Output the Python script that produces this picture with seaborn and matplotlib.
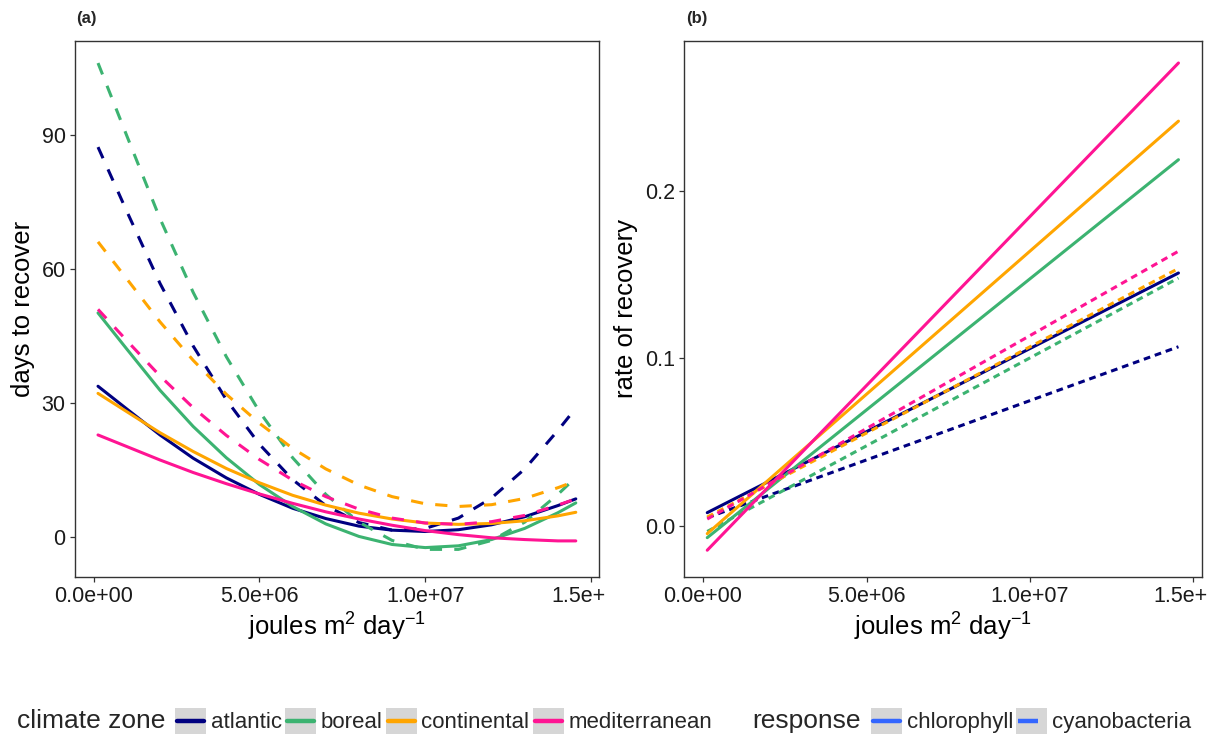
import matplotlib
matplotlib.use("Agg")
import matplotlib.pyplot as plt
import pandas as pd
import seaborn as sns

from matplotlib.lines import Line2D
from matplotlib.patches import Rectangle
from matplotlib.legend_handler import HandlerLine2D
from matplotlib.transforms import ScaledTranslation


# ===== DATA =====
zones = ["atlantic", "boreal", "continental", "mediterranean"]
responses = ["chlorophyll", "cyanobacteria"]
zone_colors = ["#000080", "#3CB371", "#FFA500", "#FF1493"]
response_key_color = "#3366FF"

# (a) fitted days to recover at these radiation values
radiation_a = [0.13e6, 1e6, 2e6, 3e6, 4e6, 5e6, 6e6, 7e6,
               8e6, 9e6, 10e6, 11e6, 12e6, 13e6, 14e6, 14.54e6]
days_atlantic_chl = [33.8, 28.7, 22.9, 17.7, 13.3, 9.6, 6.5, 4.2, 2.5, 1.6, 1.3, 1.7, 2.8, 4.6, 7.1, 8.6]
days_boreal_chl = [50.2, 42.1, 32.9, 24.8, 17.8, 11.8, 6.9, 3.0, 0.2, -1.6, -2.3, -1.9, -0.5, 2.0, 5.5, 7.7]
days_continental_chl = [32.2, 28.1, 23.4, 19.2, 15.4, 12.2, 9.4, 7.2, 5.4, 4.1, 3.2, 2.9, 3.1, 3.7, 4.8, 5.6]
days_mediterranean_chl = [22.9, 20.3, 17.3, 14.5, 12.0, 9.7, 7.6, 5.7, 4.1, 2.7, 1.5, 0.6, -0.1, -0.5, -0.8, -0.8]
days_atlantic_cyano = [87.3, 72.9, 56.8, 42.8, 30.8, 20.8, 12.9, 7.1, 3.3, 1.6, 2.0, 4.3, 8.8, 15.3, 23.9, 28.9]
days_boreal_cyano = [106.1, 89.8, 71.3, 54.8, 40.4, 28.1, 17.8, 9.6, 3.4, -0.7, -2.7, -2.7, -0.7, 3.4, 9.6, 13.4]
days_continental_cyano = [66.1, 57.8, 48.2, 39.6, 32.0, 25.5, 19.9, 15.3, 11.7, 9.1, 7.5, 6.9, 7.3, 8.7, 11.1, 12.6]
days_mediterranean_cyano = [51.0, 44.0, 36.1, 29.0, 22.8, 17.4, 12.8, 9.1, 6.3, 4.3, 3.2, 2.9, 3.5, 4.9, 7.2, 8.6]

# (b) fitted rate of recovery, straight lines between the two ends
radiation_b = [0.13e6, 14.54e6]
rate_atlantic_chl = [0.0080, 0.1510]
rate_boreal_chl = [-0.0069, 0.2186]
rate_continental_chl = [-0.0045, 0.2416]
rate_mediterranean_chl = [-0.0144, 0.2763]
rate_atlantic_cyano = [0.0050, 0.1070]
rate_boreal_cyano = [-0.0032, 0.1480]
rate_continental_cyano = [0.0054, 0.1537]
rate_mediterranean_cyano = [0.0042, 0.1640]

x_ticks = [0, 5e6, 1e7, 1.5e7]
# the last label is cut off by the panel edge in the original figure
x_tick_labels = ["0.0e+00", "5.0e+06", "1.0e+07", "1.5e+"]
y_ticks_a = [0, 30, 60, 90]
y_ticks_b = [0.0, 0.1, 0.2]
y_tick_labels_b = ["0.0", "0.1", "0.2"]


def long_table(x, series, value_name):
    rows = []
    for (zone, response), values in series.items():
        for xi, yi in zip(x, values):
            rows.append({"joules": xi, value_name: yi, "zone": zone, "response": response})
    return pd.DataFrame(rows)


df_a = long_table(radiation_a, {
    ("atlantic", "chlorophyll"): days_atlantic_chl,
    ("boreal", "chlorophyll"): days_boreal_chl,
    ("continental", "chlorophyll"): days_continental_chl,
    ("mediterranean", "chlorophyll"): days_mediterranean_chl,
    ("atlantic", "cyanobacteria"): days_atlantic_cyano,
    ("boreal", "cyanobacteria"): days_boreal_cyano,
    ("continental", "cyanobacteria"): days_continental_cyano,
    ("mediterranean", "cyanobacteria"): days_mediterranean_cyano,
}, "days")

df_b = long_table(radiation_b, {
    ("atlantic", "chlorophyll"): rate_atlantic_chl,
    ("boreal", "chlorophyll"): rate_boreal_chl,
    ("continental", "chlorophyll"): rate_continental_chl,
    ("mediterranean", "chlorophyll"): rate_mediterranean_chl,
    ("atlantic", "cyanobacteria"): rate_atlantic_cyano,
    ("boreal", "cyanobacteria"): rate_boreal_cyano,
    ("continental", "cyanobacteria"): rate_continental_cyano,
    ("mediterranean", "cyanobacteria"): rate_mediterranean_cyano,
}, "rate")


# ===== STYLE =====
sns.set_theme(style="white")
plt.rcParams["font.family"] = ["Liberation Sans", "DejaVu Sans"]
plt.rcParams["mathtext.fontset"] = "custom"
plt.rcParams["mathtext.rm"] = "Liberation Sans"
plt.rcParams["mathtext.it"] = "Liberation Sans:italic"

palette = dict(zip(zones, zone_colors))
lw = 2.2


class KeyHandler(HandlerLine2D):
    """ggplot-like legend key: grey square with a line across it."""

    def create_artists(self, legend, orig_handle, xdescent, ydescent,
                       width, height, fontsize, trans):
        box = Rectangle((-xdescent, -ydescent), width, height,
                        facecolor="#d6d6d6", edgecolor="none", transform=trans)
        y = -ydescent + height / 2
        line = Line2D([-xdescent + 0.06 * width, -xdescent + 0.94 * width], [y, y])
        line.update_from(orig_handle)
        line.set_transform(trans)
        return [box, line]


# ===== PLOT =====
fig = plt.figure(figsize=(12.2, 7.42), dpi=100)
ax_a = fig.add_axes([74.7 / 1220, 1 - 576.7 / 742, 524.3 / 1220, 536 / 742])
ax_b = fig.add_axes([684.3 / 1220, 1 - 576.7 / 742, 517.7 / 1220, 536 / 742])

sns.lineplot(data=df_a, x="joules", y="days", hue="zone", style="response",
             hue_order=zones, style_order=responses, palette=palette,
             dashes={"chlorophyll": "", "cyanobacteria": (4, 4)},
             linewidth=lw, estimator=None, sort=False, legend=False, ax=ax_a)
sns.lineplot(data=df_b, x="joules", y="rate", hue="zone", style="response",
             hue_order=zones, style_order=responses, palette=palette,
             dashes={"chlorophyll": "", "cyanobacteria": (2.2, 1.6)},
             linewidth=lw, estimator=None, sort=False, legend=False, ax=ax_b)

ax_a.set_xlim(-0.573e6, 15.24e6)
ax_a.set_ylim(-8.81, 111.1)
ax_b.set_xlim(-0.572e6, 15.26e6)
ax_b.set_ylim(-0.0302, 0.2896)

ax_a.set_yticks(y_ticks_a, [str(v) for v in y_ticks_a])
ax_b.set_yticks(y_ticks_b, y_tick_labels_b)

xlabel = r"joules m$^{2}$ day$^{-1}$"
for ax, ylabel in [(ax_a, "days to recover"), (ax_b, "rate of recovery")]:
    ax.set_xticks(x_ticks, x_tick_labels)
    ax.set_xlabel(xlabel, fontsize=18.5, color="black", labelpad=3)
    ax.set_ylabel(ylabel, fontsize=18.5, color="black", labelpad=5)
    ax.tick_params(axis="both", which="major", direction="out", length=3.5, width=0.9,
                   color="#333333", labelsize=15.5, labelcolor="#1a1a1a", pad=3,
                   bottom=True, left=True)
    for side in ["top", "right", "bottom", "left"]:
        ax.spines[side].set_visible(True)
        ax.spines[side].set_color("#333333")
        ax.spines[side].set_linewidth(1.0)
    ax.grid(False)

    # the cut label starts where the full "1.5e+07" would have started
    last = ax.get_xticklabels()[-1]
    last.set_horizontalalignment("left")
    last.set_transform(last.get_transform() + ScaledTranslation(-40 / 100, 0, fig.dpi_scale_trans))

# panel tags
fig.text(76 / 1220, 1 - 18 / 742, "(a)", fontsize=12, fontweight="bold", ha="left", va="center")
fig.text(686 / 1220, 1 - 18 / 742, "(b)", fontsize=12, fontweight="bold", ha="left", va="center")

# legends along the bottom
legend_y = 1 - 721 / 742
zone_handles = [Line2D([], [], color=c, lw=3.2) for c in zone_colors]
response_handles = [
    Line2D([], [], color=response_key_color, lw=3.2),
    Line2D([], [], color=response_key_color, lw=3.2, linestyle=(0, (4.5, 4))),
]
legend_kw = dict(loc="center left", frameon=False, fontsize=16, handlelength=1.4,
                 handleheight=1.4, handletextpad=0.2, columnspacing=0.15,
                 borderpad=0, borderaxespad=0, handler_map={Line2D: KeyHandler()})
fig.text(17 / 1220, legend_y, "climate zone", fontsize=19, ha="left", va="center")
fig.legend(zone_handles, zones, bbox_to_anchor=(175 / 1220, legend_y), ncol=4, **legend_kw)
fig.text(752 / 1220, legend_y, "response", fontsize=19, ha="left", va="center")
fig.legend(response_handles, responses, bbox_to_anchor=(871 / 1220, legend_y), ncol=2, **legend_kw)

fig.savefig("out.png", dpi=100)
